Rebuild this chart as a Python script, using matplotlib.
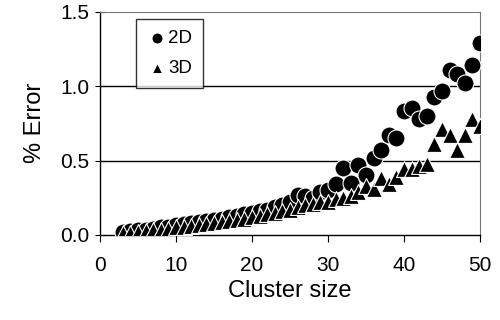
import numpy as np
import matplotlib.pyplot as plt

# ========================
# DATA
# ========================
cluster_size = list(range(3, 51))

err_2d = [0.02, 0.025, 0.03, 0.035, 0.04, 0.05, 0.055, 0.065, 0.07, 0.08,
          0.085, 0.09, 0.10, 0.11, 0.12, 0.13, 0.14, 0.15, 0.16, 0.17,
          0.19, 0.20, 0.22, 0.27, 0.26, 0.25, 0.29, 0.30, 0.34, 0.45,
          0.35, 0.47, 0.40, 0.52, 0.57, 0.67, 0.65, 0.83, 0.85, 0.78,
          0.80, 0.93, 0.97, 1.11, 1.08, 1.02, 1.14, 1.29]

err_3d = [0.01, 0.015, 0.02, 0.025, 0.03, 0.035, 0.04, 0.05, 0.055, 0.06,
          0.065, 0.07, 0.08, 0.085, 0.095, 0.10, 0.11, 0.12, 0.13, 0.14,
          0.15, 0.16, 0.17, 0.19, 0.20, 0.21, 0.22, 0.22, 0.24, 0.25,
          0.26, 0.29, 0.33, 0.31, 0.38, 0.34, 0.39, 0.44, 0.44, 0.46,
          0.48, 0.61, 0.71, 0.67, 0.57, 0.67, 0.78, 0.73]

x_ticks = [0, 10, 20, 30, 40, 50]
y_ticks = [0.0, 0.5, 1.0, 1.5]

plt.rcParams['font.family'] = ['Liberation Sans', 'DejaVu Sans']

fig = plt.figure(figsize=(5, 3.2), dpi=100)
ax = fig.add_axes([0.2, 0.266, 0.76, 0.697])

# horizontal gridlines like the old spreadsheet plot
for yv in y_ticks[1:-1]:
    ax.axhline(yv, color='black', lw=1.0, zorder=1)

ax.scatter(cluster_size, err_2d, s=150, marker='o', color='black',
           edgecolors='white', linewidths=0.8, zorder=3, label='2D')
ax.scatter(cluster_size, err_3d, s=130, marker='^', color='black',
           edgecolors='white', linewidths=0.8, zorder=4, label='3D')

ax.set_xlim(0, 50)
ax.set_ylim(0, 1.5)
ax.set_xticks(x_ticks)
ax.set_yticks(y_ticks)
ax.set_yticklabels([f"{v:.1f}" for v in y_ticks])
ax.tick_params(axis='x', direction='out', length=5, width=0.8, labelsize=15, pad=10)
ax.tick_params(axis='y', direction='inout', length=7, width=0.8, labelsize=15, pad=4)

ax.set_xlabel('Cluster size', fontsize=17, labelpad=4)
ax.set_ylabel('% Error', fontsize=17, labelpad=10)

for side in ['top', 'right']:
    ax.spines[side].set_color('#777777')
    ax.spines[side].set_linewidth(0.8)
    ax.spines[side].set_linestyle((0, (1, 1)))
ax.spines['left'].set_linewidth(1.0)
ax.spines['bottom'].set_linewidth(1.0)

leg = ax.legend(loc='upper left', bbox_to_anchor=(0.095, 0.97), frameon=True,
                fancybox=False, edgecolor='black', fontsize=13.5,
                handletextpad=0.1, borderpad=0.6, labelspacing=0.7,
                markerscale=0.65, handlelength=1.0, borderaxespad=0)
leg.get_frame().set_linewidth(1.0)

fig.savefig('out.png', dpi=100, facecolor='white')
